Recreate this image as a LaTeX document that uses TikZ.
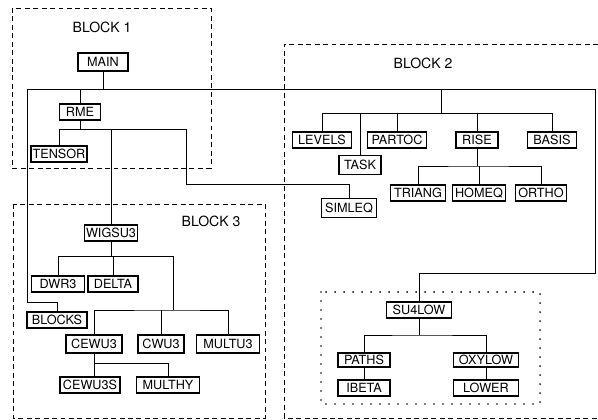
\documentclass[tikz,border=0pt]{standalone}
\usepackage{fontspec}
\setmainfont{TeX Gyre Heros}
\usetikzlibrary{positioning}
\tikzset{
  box/.style={draw,line width=.9pt,inner xsep=1pt,inner ysep=0pt,minimum height=.4cm,font=\fontsize{9}{10}\selectfont},
  wd/.style={minimum width=#1*0.025cm},
  wire/.style={line width=.6pt},
  blockline/.style={line width=.6pt,dash pattern=on 3.5pt off 2.5pt},
  dotline/.style={line width=1.4pt,line cap=round,dash pattern=on 0pt off 6.4pt},
  blocklabel/.style={font=\fontsize{10}{12}\selectfont},
}

\begin{document}
\begin{tikzpicture}[x=0.025cm,y=-0.025cm]
  \useasboundingbox (0,0) rectangle (598,420);

  % block frames
  \draw[blockline] (12,8) rectangle (211,168);
  \draw[blockline] (13,204) rectangle (265,418);
  \draw[blockline] (598,44) -| (284,418) -- (598,418);
  \draw[dotline] (321,292) rectangle (540,404);
  \node[blocklabel] (lab1) at (102,27) {BLOCK 1};
  \node[blocklabel] (lab2) at (423,63) {BLOCK 2};
  \node[blocklabel] (lab3) at (211,221) {BLOCK 3};

  % block 1
  \node[box,wd=50,minimum height=18*0.025cm] (main) at (103,62) {MAIN};
  \node[box,wd=41] (rme) at (80,112) {RME};
  \node[box,wd=56] (tensor) at (59,154) {TENSOR};

  % block 2
  \node[box,wd=59] (levels) at (322,140) {LEVELS};
  \node[box,wd=42,minimum height=19*0.025cm] (task) at (360,165) {TASK};
  \node[box,wd=59] (partoc) at (397,140) {PARTOC};
  \node[box,wd=42] (rise) at (477,140) {RISE};
  \node[box,wd=49] (basis) at (552,140) {BASIS};
  \node[box,wd=55] (triang) at (418,193) {TRIANG};
  \node[box,wd=53] (homeq) at (479,193) {HOMEQ};
  \node[box,wd=51] (ortho) at (541,193) {ORTHO};
  \node[box,wd=55,minimum height=19*0.025cm] (simleq) at (349,208) {SIMLEQ};

  % block 3
  \node[box,wd=50] (wigsu3) at (111,233) {WIGSU3};
  \node[box,wd=53] (dwr3) at (58,284) {DWR3};
  \node[box,wd=50] (delta) at (113,284) {DELTA};
  \node[box,wd=60] (blocks) at (57,320) {BLOCKS};
  \node[box,wd=56,minimum height=18*0.025cm] (cewu3) at (94,344) {CEWU3};
  \node[box,wd=46,minimum height=18*0.025cm] (cwu3) at (161,344) {CWU3};
  \node[box,wd=63,minimum height=18*0.025cm] (multu3) at (228,344) {MULTU3};
  \node[box,wd=60] (cewu3s) at (90,385) {CEWU3S};
  \node[box,wd=63] (multhy) at (168,385) {MULTHY};

  % dotted group
  \node[box,wd=65] (su4low) at (419,310) {SU4LOW};
  \node[box,wd=52,minimum height=14*0.025cm] (paths) at (364,360) {PATHS};
  \node[box,wd=52] (ibeta) at (364,388) {IBETA};
  \node[box,wd=65,minimum height=14*0.025cm] (oxylow) at (486,360) {OXYLOW};
  \node[box,wd=65] (lower) at (486,388) {LOWER};

  % buses
  \coordinate (mainbus) at (105,89);
  \coordinate (bl) at (27,302);
  \coordinate (tr) at (595,89);
  \coordinate (br) at (595,273);
  \coordinate (rmebus) at (80,129);
  \coordinate (rmer) at (186,129);
  \coordinate (simbus) at (186,184);
  \coordinate (b2bus) at (441,113);
  \coordinate (risebus) at (477,166);
  \coordinate (wsplit) at (173,256);
  \coordinate (csplit) at (173,310);
  \coordinate (cebus) at (168,363);
  \coordinate (sbus) at (419,335);

  \begin{scope}[wire]
    \draw (main) -- (main |- mainbus);
    \draw (blocks.north) |- (bl) |- (tr) -- (br) -| (su4low.north);
    \draw (rme.north) -- (rme.north |- mainbus);
    \draw (rme) -- (rme |- rmebus);
    \draw (tensor.north) |- (rmer) -- (simbus) -| (simleq.north);
    \draw (wigsu3.north) -- (wigsu3.north |- rmebus);
    % block 2 tree
    \draw (b2bus) -- (b2bus |- mainbus);
    \draw (levels.north) -- (levels.north |- b2bus) -| (basis.north);
    \foreach \n in {task,partoc,rise}
      \draw (\n.north) -- (\n.north |- b2bus);
    \draw (rise.south) -- (risebus);
    \draw (triang.north) |- (risebus) -| (ortho.north);
    \draw (homeq.north) -- (homeq.north |- risebus);
    % block 3 tree
    \draw (wigsu3.south) -- (wigsu3.south |- wsplit);
    \draw (dwr3.north) |- (wsplit) -- (csplit);
    \draw (delta.north) -- (delta.north |- wsplit);
    \draw (cewu3.north) |- (csplit) -| (multu3.north);
    \draw (cwu3.north) -- (cwu3.north |- csplit);
    \draw (cewu3.south) |- (cebus) -- (multhy.north);
    \draw (cewu3.south |- cebus) -- (cewu3.south |- cewu3s.north);
    % su4low tree
    \draw (su4low.south) -- (sbus);
    \draw (paths.north) |- (sbus) -| (oxylow.north);
    \draw (paths) -- (ibeta);
    \draw (oxylow) -- (lower);
  \end{scope}
\end{tikzpicture}
\end{document}
